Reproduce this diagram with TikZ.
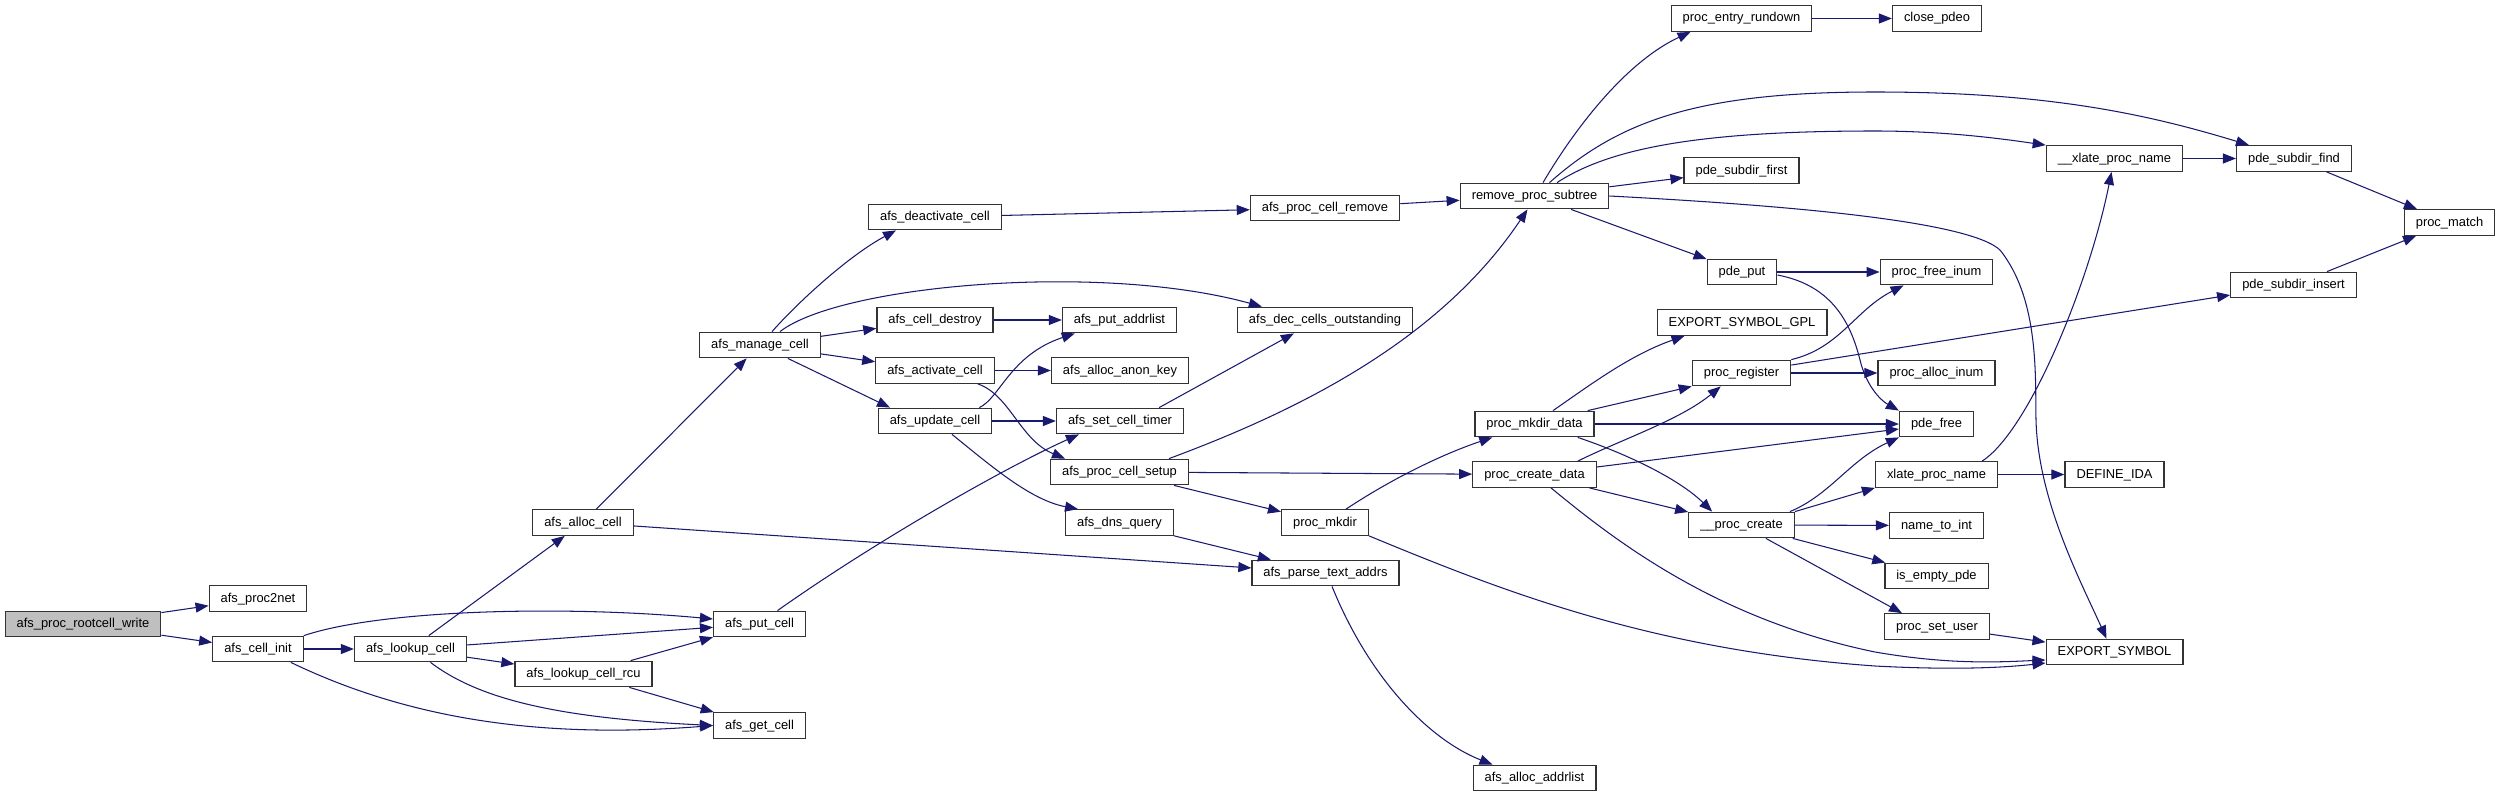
\documentclass[tikz,border=0pt]{standalone}
\usepackage{fontspec}
\setmainfont{Liberation Sans}
\usetikzlibrary{arrows.meta,calc}
\definecolor{edgeblue}{RGB}{25,25,112}
\definecolor{rootgray}{RGB}{191,191,191}
\begin{document}
\begin{tikzpicture}[x=1pt,y=-1pt,
  fn/.style={draw=black!80, line width=1.3pt, fill=white,
    font=\fontsize{12.9}{14}\selectfont, inner xsep=11.5pt, inner ysep=0pt,
    minimum height=25.5pt, text height=9.5pt, text depth=2.5pt},
  rootfn/.style={fn, fill=rootgray},
  call/.style={draw=edgeblue, line width=1.05pt, -{Triangle[length=13pt,width=10pt]}},
]
\fill[white] (0,0) rectangle (2500,797);
\useasboundingbox (0,0) rectangle (2500,797);

% nodes
\node[rootfn] (root) at (83,624) {afs\_proc\_rootcell\_write};
\node[fn] (p2n) at (258,598.5) {afs\_proc2net};
\node[fn] (cinit) at (258,649) {afs\_cell\_init};
\node[fn] (lookup) at (410.5,649) {afs\_lookup\_cell};
\node[fn] (alloc) at (583,522.5) {afs\_alloc\_cell};
\node[fn] (rcu) at (583.5,674) {afs\_lookup\_cell\_rcu};
\node[fn] (put) at (759.5,624) {afs\_put\_cell};
\node[fn] (get) at (759.5,725.5) {afs\_get\_cell};
\node[fn] (manage) at (760,345) {afs\_manage\_cell};
\node[fn] (deact) at (935,217) {afs\_deactivate\_cell};
\node[fn] (destroy) at (935,320) {afs\_cell\_destroy};
\node[fn] (act) at (935,370.5) {afs\_activate\_cell};
\node[fn] (upd) at (935,421) {afs\_update\_cell};
\node[fn] (paddr) at (1119.5,320) {afs\_put\_addrlist};
\node[fn] (anon) at (1120,370.5) {afs\_alloc\_anon\_key};
\node[fn] (timer) at (1120,421) {afs\_set\_cell\_timer};
\node[fn] (setup) at (1119.5,472) {afs\_proc\_cell\_setup};
\node[fn] (dns) at (1119.5,522.5) {afs\_dns\_query};
\node[fn] (remove) at (1325,208) {afs\_proc\_cell\_remove};
\node[fn] (dec) at (1325,320) {afs\_dec\_cells\_outstanding};
\node[fn] (mkdir) at (1325,522.5) {proc\_mkdir};
\node[fn] (parse) at (1325.5,573) {afs\_parse\_text\_addrs};
\node[fn] (rps) at (1534.5,196) {remove\_proc\_subtree};
\node[fn] (mdata) at (1534.5,424) {proc\_mkdir\_data};
\node[fn] (pcd) at (1534.5,474.5) {proc\_create\_data};
\node[fn] (aaddr) at (1534.5,778) {afs\_alloc\_addrlist};
\node[fn] (rund) at (1741.5,18.5) {proc\_entry\_rundown};
\node[fn] (first) at (1741.5,170.5) {pde\_subdir\_first};
\node[fn] (pput) at (1742,272) {pde\_put};
\node[fn] (gpl) at (1742,322.5) {EXPORT\_SYMBOL\_GPL};
\node[fn] (reg) at (1741.5,373) {proc\_register};
\node[fn] (pc) at (1741.5,525) {\_\_proc\_create};
\node[fn] (close) at (1937,18.5) {close\_pdeo};
\node[fn] (pfi) at (1936.5,272) {proc\_free\_inum};
\node[fn] (pai) at (1936.5,373) {proc\_alloc\_inum};
\node[fn] (pfree) at (1936.5,424) {pde\_free};
\node[fn] (xlate) at (1936.5,474.5) {xlate\_proc\_name};
\node[fn] (n2i) at (1936.5,525.5) {name\_to\_int};
\node[fn] (empty) at (1936.5,576) {is\_empty\_pde};
\node[fn] (psu) at (1937,626.5) {proc\_set\_user};
\node[fn] (xpn) at (2114.5,158.5) {\_\_xlate\_proc\_name};
\node[fn] (ida) at (2114.5,474.5) {DEFINE\_IDA};
\node[fn] (exp) at (2114.5,652) {EXPORT\_SYMBOL};
\node[fn] (find) at (2294,158.5) {pde\_subdir\_find};
\node[fn] (insert) at (2293.5,285) {pde\_subdir\_insert};
\node[fn] (match) at (2449.5,222.5) {proc\_match};

% edges
\draw[call] (root) -- (p2n);
\draw[call] (root) -- (cinit);
\draw[call] (cinit) -- (lookup);
\draw[call] (cinit.north east) .. controls (380,610) and (560,605) .. ($(put.west)+(0,-5)$);
\draw[call] ([xshift=-13pt]cinit.south east) .. controls (400,715) and (530,740) .. (get.west);
\draw[call] (lookup) -- (alloc);
\draw[call] (lookup) -- (put);
\draw[call] (lookup) -- (rcu);
\draw[call] ([xshift=20pt]lookup.south) .. controls (480,700) and (560,718) .. (get.west);
\draw[call] (rcu) -- (put);
\draw[call] (rcu) -- (get);
\draw[call] (alloc) -- (manage);
\draw[call] (alloc) -- (parse);
\draw[call] ([xshift=12pt]manage.north) .. controls (800,300) and (850,255) .. ([xshift=28pt]deact.south west);
\draw[call] ([xshift=20pt]manage.north) .. controls (840,285) and (1100,262) .. ([xshift=25pt]dec.north west);
\draw[call] (manage) -- (destroy);
\draw[call] (manage) -- (act);
\draw[call] (manage) -- ([xshift=-45pt]upd.north);
\draw[call] (deact) -- (remove);
\draw[call] (destroy) -- (paddr);
\draw[call] (act) -- (anon);
\draw[call] ([xshift=-17pt]act.south east) .. controls (1010,395) and (1020,440) .. ([xshift=15pt]setup.north west);
\draw[call] ([xshift=-13pt]upd.north east) .. controls (1000,398) and (1010,355) .. ([xshift=13pt]paddr.south west);
\draw[call] (upd) -- (timer);
\draw[call] ([xshift=17pt]upd.south) .. controls (990,465) and (1030,500) .. ([xshift=13pt]dns.north west);
\draw[call] ([xshift=18pt]put.north) .. controls (870,545) and (1000,470) .. ([xshift=23pt]timer.south west);
\draw[call] ([xshift=-25pt]timer.north east) -- ([xshift=57pt]dec.south west);
\draw[call] ([xshift=-20pt]setup.north east) .. controls (1300,410) and (1440,340) .. ([xshift=-7pt]rps.south);
\draw[call] (setup) -- (pcd);
\draw[call] (setup) -- (mkdir);
\draw[call] (dns) -- (parse);
\draw[call] ([xshift=6.5pt]parse.south) .. controls (1370,680) and (1430,740) .. ([xshift=20pt]aaddr.north west);
\draw[call] (remove) -- (rps);
\draw[call] ([xshift=8.5pt]rps.north) .. controls (1580,120) and (1630,60) .. ([xshift=20pt]rund.south west);
\draw[call] ([xshift=15pt]rps.north) .. controls (1620,120) and (1700,92) .. (1875,92) .. controls (2050,92) and (2150,115) .. ([xshift=13pt]find.north west);
\draw[call] ([xshift=22.5pt]rps.north) .. controls (1610,148) and (1700,131) .. (1875,131) .. controls (1950,131) and (2010,140) .. (xpn.north west);
\draw[call] (rps) -- (first);
\draw[call] (rps.east) .. controls (1800,206) and (1970,222) .. (2000,250) .. controls (2040,300) and (2035,380) .. (2036,420) .. controls (2038,500) and (2080,580) .. ([xshift=-8pt]exp.north);
\draw[call] (rps) -- (pput);
\draw[call] (rund) -- (close);
\draw[call] (pput) -- (pfi);
\draw[call] ([yshift=-3pt]pput.east) .. controls (1830,285) and (1850,320) .. (1860,360) .. controls (1866,385) and (1880,400) .. (pfree.north west);
\draw[call] (xpn) -- (find);
\draw[call] (find) -- (match);
\draw[call] (insert) -- (match);
\draw[call] (reg) -- (insert);
\draw[call] (reg.north east) .. controls (1840,348) and (1855,310) .. ([xshift=24pt]pfi.south west);
\draw[call] (reg) -- (pai);
\draw[call] ([xshift=21pt]mkdir.north) .. controls (1390,480) and (1440,455) .. ([xshift=18pt]mdata.south west);
\draw[call] (mkdir.south east) .. controls (1500,590) and (1650,650) .. (1875,666) .. controls (1950,670) and (2000,668) .. ([yshift=-11pt]exp.west);
\draw[call] ([xshift=16.5pt]pcd.south) .. controls (1620,545) and (1720,620) .. (1875,652) .. controls (1950,665) and (2000,662) .. ([yshift=-8pt]exp.west);
\draw[call] ([xshift=18.5pt]mdata.north) .. controls (1590,385) and (1630,355) .. ([xshift=28pt]gpl.south west);
\draw[call] ([xshift=-7pt]mdata.north east) -- (reg.south west);
\draw[call] ([xshift=-19pt]pcd.north east) .. controls (1620,440) and (1680,420) .. ([xshift=29pt]reg.south west);
\draw[call] (mdata) -- (pfree);
\draw[call] ([yshift=7.5pt]pcd.east) -- ([yshift=-5pt]pfree.west);
\draw[call] ([xshift=-17pt]mdata.south east) .. controls (1630,455) and (1680,480) .. ([xshift=24pt]pc.north west);
\draw[call] (pcd) -- (pc);
\draw[call] ([xshift=-5pt]pc.north east) .. controls (1830,495) and (1850,460) .. (pfree.south west);
\draw[call] (pc.north east) -- (xlate.south west);
\draw[call] (pc) -- (n2i);
\draw[call] (pc) -- (empty);
\draw[call] (pc) -- ([xshift=18pt]psu.north west);
\draw[call] (xlate) -- (ida);
\draw[call] ([xshift=-16pt]xlate.north east) .. controls (2030,430) and (2090,280) .. ([xshift=-3pt]xpn.south);
\draw[call] (psu) -- (exp);
\end{tikzpicture}
\end{document}
